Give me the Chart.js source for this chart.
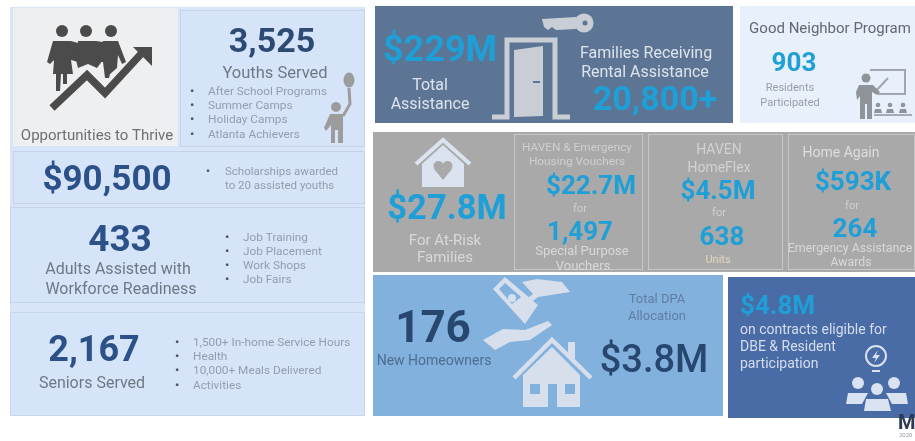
<!DOCTYPE html>
<html>
<head>
<meta charset="utf-8">
<style>
html,body{margin:0;padding:0;background:#fff;overflow:hidden}
canvas{display:block;filter:blur(.6px)}
</style>
<script src="https://cdn.jsdelivr.net/npm/chart.js@4/dist/chart.umd.min.js"></script>
</head>
<body>
<canvas id="board" width="915" height="441"></canvas>
<script>
// figures
const youthFigures = ['3,525', '$90,500'];
const youthPrograms = ['After School Programs', 'Summer Camps', 'Holiday Camps', 'Atlanta Achievers'];
const scholarshipNote = ['Scholarships awarded', 'to 20 assisted youths'];
const adultFigures = ['433'];
const adultPrograms = ['Job Training', 'Job Placement', 'Work Shops', 'Job Fairs'];
const seniorFigures = ['2,167'];
const seniorPrograms = ['1,500+ In-home Service Hours', 'Health', '10,000+ Meals Delivered', 'Activities'];
const assistanceFigures = ['$229M', '20,800+', '903'];
const atRiskFigures = ['$27.8M', '$22.7M', '1,497', '$4.5M', '638', '$593K', '264'];
const homeownerFigures = ['176', '$3.8M'];
const contractFigures = ['$4.8M'];

const NAVY = '#2c5188', DARK = '#27476f', CYAN = '#1e9fd8', GREY = '#6e7885', SOFT = '#939cae', PALE = '#d9d9d9';

// one entry per text: string, x, y, size, weight, colour, align
const t = (s, x, y, size, weight, color, align) => ({s, x, y, size, weight, color, align: align || 'center'});
const bulletList = (items, bx, tx, ys, size) => items.flatMap((s, i) => [
  t('•', bx, ys[i], size, 700, '#4a5568'),
  t(s, tx, ys[i], size, 400, SOFT, 'left')
]);

const texts = [
  t('Opportunities to Thrive', 97, 135, 15, 400, '#6c6f73'),
  t(youthFigures[0], 272, 40, 34, 700, '#2d4a72'),
  t('Youths Served', 275, 72, 16.5, 400, GREY),
  ...bulletList(youthPrograms, 192, 208, [91, 105, 119, 134], 11.8),
  t(youthFigures[1], 107, 178, 35, 700, NAVY),
  t('•', 208, 171, 11, 700, '#4a5568'),
  t(scholarshipNote[0], 225, 171, 11.5, 400, SOFT, 'left'),
  t(scholarshipNote[1], 225, 185, 11.5, 400, SOFT, 'left'),
  t(adultFigures[0], 120, 238, 37, 700, NAVY),
  t('Adults Assisted with', 118, 268, 16, 400, GREY),
  t('Workforce Readiness', 121, 288, 16, 400, GREY),
  ...bulletList(adultPrograms, 227, 243, [237, 251, 265, 279], 11.8),
  t(seniorFigures[0], 94, 348, 36, 700, NAVY),
  t('Seniors Served', 92, 382, 16, 400, GREY),
  ...bulletList(seniorPrograms, 177, 193, [342, 356, 370, 385], 11.8),

  t(assistanceFigures[0], 440, 48, 36, 700, CYAN),
  t('Total', 430, 84, 16, 400, '#dde3ec'),
  t('Assistance', 430, 103, 16, 400, '#dde3ec'),
  t('Families Receiving', 646, 52, 16, 400, '#dde3ec'),
  t('Rental Assistance', 645, 71, 16, 400, '#dde3ec'),
  t(assistanceFigures[1], 655, 98, 34, 700, CYAN),
  t('Good Neighbor Program', 830, 28, 15, 400, '#62686f'),
  t(assistanceFigures[2], 794, 62, 26, 700, CYAN),
  t('Residents', 790, 87, 11, 400, '#989ea6'),
  t('Participated', 790, 102, 11, 400, '#989ea6'),

  t(atRiskFigures[0], 447, 207, 34.5, 700, CYAN),
  t('For At-Risk', 445, 240, 15, 400, PALE),
  t('Families', 445, 257, 15, 400, PALE),
  t('HAVEN & Emergency', 577, 147, 11.8, 400, '#cfcfcf'),
  t('Housing Vouchers', 577, 161, 11.8, 400, '#cfcfcf'),
  t(atRiskFigures[1], 591, 185, 26, 700, CYAN),
  t('for', 580, 208, 11, 400, '#cfcfcf'),
  t(atRiskFigures[2], 580, 231, 26, 700, CYAN),
  t('Special Purpose', 582, 250, 13, 400, PALE),
  t('Vouchers', 583, 265, 13, 400, PALE),
  t('HAVEN', 719, 149, 14, 400, '#d2d2d2'),
  t('HomeFlex', 719, 167, 14, 400, '#d2d2d2'),
  t(atRiskFigures[3], 718, 190, 26, 700, CYAN),
  t('for', 719, 212, 11, 400, '#cfcfcf'),
  t(atRiskFigures[4], 722, 236, 26, 700, CYAN),
  t('Units', 718, 259, 11, 400, '#e0d8bd'),
  t('Home Again', 841, 152, 14, 400, '#dedede'),
  t(atRiskFigures[5], 853, 181, 26, 700, CYAN),
  t('for', 852, 205, 11, 400, '#cfcfcf'),
  t(atRiskFigures[6], 855, 228, 26, 700, CYAN),
  t('Emergency Assistance', 850, 248, 12.3, 400, PALE),
  t('Awards', 851, 262, 12.3, 400, PALE),

  t(homeownerFigures[0], 433, 327, 44, 700, DARK),
  t('New Homeowners', 434, 360, 14, 400, '#4e6d8f'),
  t('Total DPA', 657, 298, 13, 400, '#5f7e9f'),
  t('Allocation', 657, 315, 13, 400, '#5f7e9f'),
  t(homeownerFigures[1], 654, 359, 38, 500, DARK),
  t(contractFigures[0], 740, 305, 26, 700, CYAN, 'left'),
  t('on contracts eligible for', 740, 329, 14, 400, '#d5dded', 'left'),
  t('DBE & Resident', 740, 346, 14, 400, '#d5dded', 'left'),
  t('participation', 740, 363, 14, 400, '#d5dded', 'left'),
  t('M', 898, 422, 20, 700, '#2b3a55', 'left'),
  t('2020', 899, 435, 6, 400, '#9aa0a8', 'left')
];

// panel backgrounds: x0, y0, x1, y1, fill, border
const panels = [
  [10, 7, 365, 416, '#d8e5f9', null],
  [13, 8, 178, 146, '#eeeff1', null],
  [180, 10, 365, 147, '#d6e4fa', '#c3d3ea'],
  [13, 151, 365, 204, '#d6e4fa', '#c3d3ea'],
  [10, 207, 365, 303, '#d6e4fa', '#c3d3ea'],
  [10, 312, 365, 416, '#d6e4fa', '#c9d7ec'],
  [375, 6, 733, 123, '#5d7595', null],
  [740, 6, 915, 123, '#e8f0fb', null],
  [373, 132, 915, 272, '#a9a9a9', null],
  [514, 134, 643, 270, 'rgba(0,0,0,0)', '#c6c6c6'],
  [648, 134, 783, 270, 'rgba(0,0,0,0)', '#c6c6c6'],
  [788, 134, 915, 270, 'rgba(0,0,0,0)', '#c6c6c6'],
  [373, 275, 723, 416, '#82b1de', null],
  [728, 277, 915, 418, '#4a6ca6', null]
];

const boardPlugin = {
  id: 'board',
  beforeDatasetsDraw(chart) {
    const {ctx, scales} = chart;
    const X = v => scales.x.getPixelForValue(v), Y = v => scales.y.getPixelForValue(v);
    const poly = (pts, color) => {
      ctx.fillStyle = color;
      ctx.beginPath();
      pts.forEach((p, i) => i ? ctx.lineTo(X(p[0]), Y(p[1])) : ctx.moveTo(X(p[0]), Y(p[1])));
      ctx.closePath();
      ctx.fill();
    };
    const line = (pts, color, w) => {
      ctx.strokeStyle = color;
      ctx.lineWidth = w;
      ctx.lineJoin = 'miter';
      ctx.beginPath();
      pts.forEach((p, i) => i ? ctx.lineTo(X(p[0]), Y(p[1])) : ctx.moveTo(X(p[0]), Y(p[1])));
      ctx.stroke();
    };
    const dot = (x, y, rx, ry, color) => {
      ctx.fillStyle = color;
      ctx.beginPath();
      ctx.ellipse(X(x), Y(y), rx, ry || rx, 0, 0, Math.PI * 2);
      ctx.fill();
    };

    panels.forEach(([x0, y0, x1, y1, fill, border]) => {
      ctx.fillStyle = fill;
      ctx.fillRect(X(x0), Y(y0), X(x1) - X(x0), Y(y1) - Y(y0));
      if (border) {
        ctx.strokeStyle = border;
        ctx.lineWidth = 1;
        ctx.strokeRect(X(x0) + .5, Y(y0) + .5, X(x1) - X(x0) - 1, Y(y1) - Y(y0) - 1);
      }
    });

    // people with rising arrow
    const ink = '#4b4b4b';
    dot(62, 31, 6, 6, ink); dot(86, 31, 6, 6, ink); dot(111, 31, 6, 6, ink);
    poly([[53, 41], [71, 41], [78, 43], [78, 62], [71, 60], [73, 74], [67, 74], [67, 84], [63, 84], [63, 74], [61, 74], [60, 91], [56, 91], [56, 74], [53, 74], [54, 60], [50, 64], [47, 62]], ink);
    poly([[78, 41], [96, 41], [103, 42], [103, 60], [97, 68], [88, 64], [78, 68], [76, 60]], ink);
    poly([[103, 41], [118, 41], [126, 62], [122, 64], [118, 55], [117, 68], [110, 74], [109, 78], [105, 78], [103, 62], [98, 62]], ink);
    line([[52, 108], [87, 75], [105, 93], [141, 54]], ink, 7.5);
    poly([[133, 47], [152, 47], [152, 66]], ink);

    // child with balloon
    const kid = '#9c9c9c';
    dot(349, 80, 5.5, 7.5, kid);
    line([[349, 88], [350, 104], [343, 116]], kid, 3);
    dot(336, 107, 5, 5, kid);
    poly([[330, 114], [343, 114], [343, 143], [338, 143], [338, 130], [335, 130], [335, 143], [331, 143], [331, 125], [326, 131], [324, 128]], kid);

    // door and key
    const lite = '#c9ced6';
    line([[492, 117], [507, 117], [507, 40], [555, 40], [555, 117], [570, 117]], lite, 5);
    poly([[514, 50], [543, 46], [543, 116], [514, 117]], lite);
    line([[533, 82], [540, 82]], '#5d7595', 2);
    dot(584, 23, 9.5, 9.5, lite);
    dot(585, 23, 2.5, 2.5, '#5d7595');
    poly([[542, 19], [576, 17], [576, 29], [556, 30], [552, 27], [548, 30], [544, 27]], lite);

    // teacher
    const tch = '#8f949a';
    line([[870, 70], [905, 70], [905, 94], [878, 94]], '#a2a6ac', 2);
    line([[875, 92], [888, 78]], '#a2a6ac', 2);
    dot(866, 78, 4.5, 4.5, tch);
    poly([[859, 85], [873, 85], [880, 92], [877, 95], [872, 92], [872, 119], [867, 119], [867, 104], [865, 104], [865, 119], [860, 119], [860, 96], [857, 100], [856, 92]], tch);
    [878, 890, 903].forEach(x => {
      dot(x, 105, 2.3, 2.3, tch);
      poly([[x - 4, 113], [x - 3, 109], [x + 3, 109], [x + 4, 113]], tch);
    });
    line([[874, 115], [912, 115]], tch, 1.5);

    // house with heart
    const roof = '#dbe3f0';
    line([[416, 164], [443, 140], [470, 164]], roof, 4);
    poly([[443, 145], [464, 164], [464, 187], [422, 187], [422, 164]], roof);
    dot(438.5, 166, 5, 5, '#a9a9a9'); dot(447.5, 166, 5, 5, '#a9a9a9');
    poly([[434, 169], [452, 169], [443, 180]], '#a9a9a9');

    // hands, cash and house
    const pale = '#d6dfeb', sky = '#82b1de';
    poly([[493, 289], [505, 277], [538, 305], [525, 324]], pale);
    poly([[499, 289], [505, 283], [521, 297], [512, 304]], sky);
    dot(512, 298, 4, 4, pale);
    poly([[522, 282], [537, 279], [562, 282], [570, 292], [538, 297], [525, 307], [522, 302], [533, 294]], pale);
    poly([[483, 340], [503, 329], [525, 330], [548, 321], [552, 325], [530, 340], [510, 342], [495, 350]], pale);
    line([[514, 378], [552, 340], [591, 378]], pale, 4.5);
    poly([[568, 342], [575, 342], [575, 362], [568, 355]], pale);
    poly([[552, 347], [580, 375], [580, 407], [523, 407], [523, 375]], pale);
    ctx.fillStyle = sky;
    ctx.fillRect(X(530), Y(384), 10, 10);
    ctx.fillRect(X(565), Y(384), 10, 10);
    ctx.fillRect(X(548), Y(384), 9, 23);

    // bulb over team
    const team = '#d9e2f0';
    ctx.strokeStyle = team;
    ctx.lineWidth = 2;
    ctx.beginPath();
    ctx.arc(X(876), Y(356), 10, 0, Math.PI * 2);
    ctx.stroke();
    poly([[878, 350], [872, 358], [876, 358], [874, 363], [880, 355], [876, 355]], team);
    line([[872, 371], [880, 371]], team, 2);
    dot(858, 383, 6, 6, team); dot(877, 389, 6, 6, team); dot(894, 383, 6, 6, team);
    poly([[846, 404], [848, 393], [868, 393], [862, 404]], team);
    poly([[886, 393], [906, 393], [908, 404], [892, 404]], team);
    poly([[864, 411], [866, 399], [888, 399], [891, 411]], team);
  },
  afterDatasetsDraw(chart) {
    const {ctx} = chart;
    const meta = chart.getDatasetMeta(0);
    ctx.textBaseline = 'alphabetic';
    texts.forEach((item, i) => {
      const el = meta.data[i];
      ctx.font = `${item.weight} ${item.size}px Roboto`;
      ctx.fillStyle = item.color;
      ctx.textAlign = item.align;
      ctx.fillText(item.s, el.x, el.y + item.size * .35);
    });
  }
};

new Chart(document.querySelector('#board').getContext('2d'), {
  type: 'scatter',
  data: {
    datasets: [{
      label: 'Labels',
      data: texts.map(item => ({x: item.x, y: item.y})),
      pointRadius: 0
    }]
  },
  options: {
    responsive: false,
    animation: false,
    plugins: {legend: {display: false}, tooltip: {enabled: false}},
    scales: {
      x: {type: 'linear', min: 0, max: 915, display: false},
      y: {type: 'linear', min: 0, max: 441, reverse: true, display: false}
    }
  },
  plugins: [boardPlugin]
});
</script>
</body>
</html>
